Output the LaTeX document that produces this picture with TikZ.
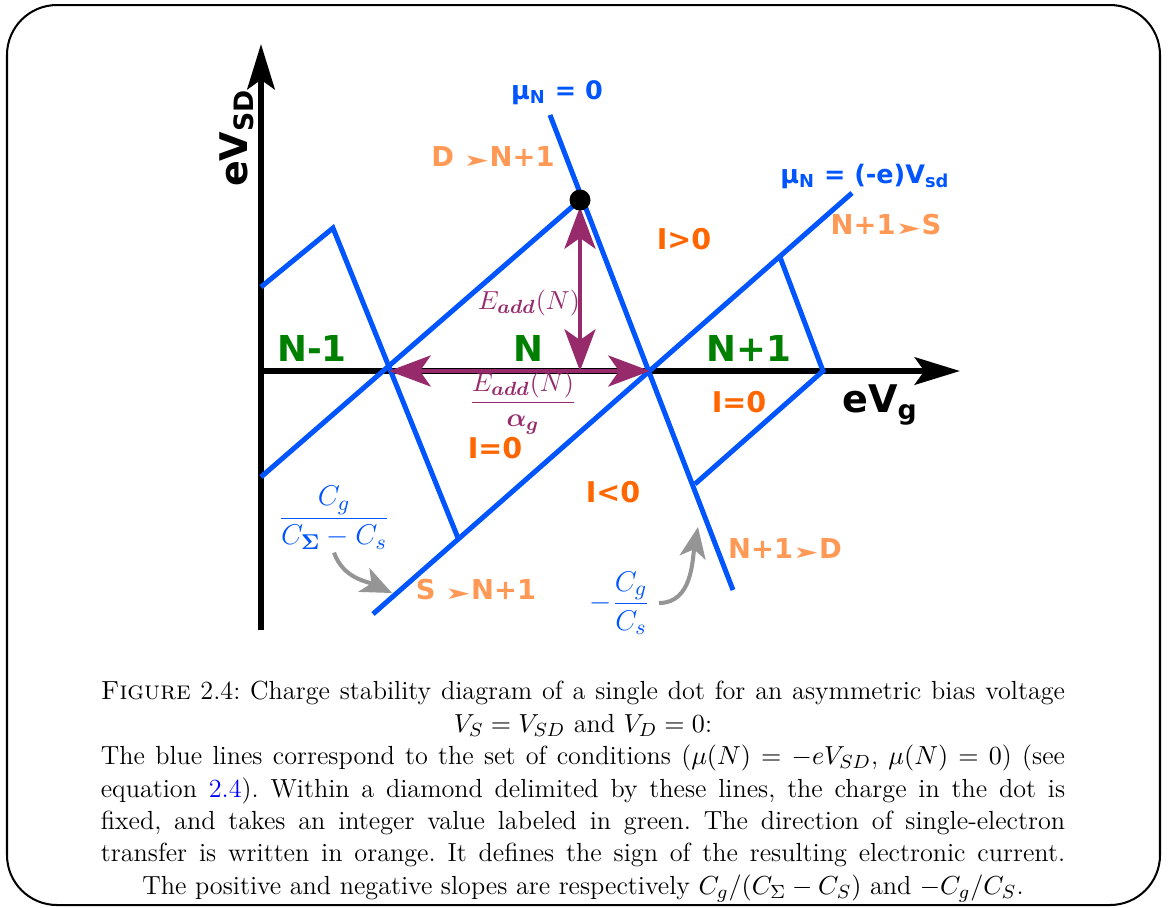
\documentclass[tikz,border=0pt]{standalone}
\usepackage{amsmath}
\usepackage{fontspec}
\usepackage{xcolor}
\usepackage{tikz}
\usetikzlibrary{arrows.meta,calc}
\newfontfamily\dvs{DejaVu Sans}
\definecolor{ink}{HTML}{000000}
\definecolor{cLine}{HTML}{0055FF}
\definecolor{cCharge}{HTML}{008000}
\definecolor{cCurr}{HTML}{FF6600}
\definecolor{cHop}{HTML}{FF9955}
\definecolor{cEadd}{HTML}{962A6B}
\definecolor{cHint}{HTML}{959595}
\definecolor{cRef}{HTML}{0000FF}
\newcommand{\hop}{{\mdseries\fontsize{13}{13}\selectfont\scalebox{1}[0.55]{➤}}}
\newcommand{\fullline}[1]{\makebox[405pt][s]{#1}}
\tikzset{
  outline/.style = {rounded corners=21pt, line width=0.85pt},
  ax/.style      = {line width=2.5pt, -{Stealth[length=19pt,width=11.5pt,inset=4pt]}},
  bl/.style      = {draw=cLine, line width=2.1pt},
  ea/.style      = {draw=cEadd, line width=1.9pt,
                    {Stealth[length=17.5pt,width=13pt,inset=4.5pt]}-{Stealth[length=17.5pt,width=13pt,inset=4.5pt]}},
  hint/.style    = {draw=cHint, line width=1.7pt, -{Stealth[length=13pt,width=11pt,inset=3.5pt]}},
  sans/.style    = {font=\dvs\bfseries\fontsize{#1}{#1}\selectfont, inner sep=1pt},
  chg/.style     = {sans=15, text=cCharge},
  cur/.style     = {sans=12, text=cCurr},
  hopl/.style    = {sans=11.5, text=cHop},
  lvl/.style     = {sans=10.7, text=cLine},
  axl/.style     = {sans=16, text=ink},
  eal/.style     = {text=cEadd, inner sep=1pt, font=\fontsize{10.95}{13}\selectfont},
  slope/.style   = {text=cLine, inner sep=1pt, font=\fontsize{13}{15}\selectfont},
  capt/.style    = {align=center, inner sep=0pt, font=\fontsize{11}{13.6}\selectfont\frenchspacing},
}

\begin{document}
\begin{tikzpicture}[x=0.42pt,y=0.42pt]
  \useasboundingbox (0,0) rectangle (1168,-907);
  \draw[outline] (7,-5) rectangle (1160,-905);

  \coordinate (O) at (261,-371);
  \coordinate (degL) at (389,-371);
  \coordinate (degR) at (650,-371);
  \coordinate (apex) at (580,-200);

  \draw[ax] (261,-630) -- (261,-44);
  \draw[ax] (258,-371) -- (960,-371);
  \node[axl, rotate=90] (vsd) at (237,-138) {eV\textsubscript{SD}};
  \node[axl] (vg) at (880,-405) {eV\textsubscript{g}};

  % degeneracy lines
  \draw[bl] (261,-477) -- (apex);
  \draw[bl] (550,-115) -- (733,-590);
  \draw[bl] (373,-614) -- (852,-193);
  \draw[bl] (261,-287) -- (333,-228) -- (458,-538);
  \draw[bl] (780,-257) -- (823,-371) -- (695,-484);
  \node[lvl] (mu0) at (557,-93) {μ\textsubscript{N} = 0};
  \node[lvl] (musd) at (865,-176) {μ\textsubscript{N} = (-e)V\textsubscript{sd}};

  % addition energy
  \draw[ea] (degL) -- (degR);
  \draw[ea] ($(apex)+(0,-7)$) -- (apex |- O);
  \fill (apex) circle[radius=10.5];
  \node[eal] (ev) at (529,-303) {$E_{\boldsymbol{add}}(N)$};
  \node[eal] (eh) at (523,-403) {$\dfrac{E_{\boldsymbol{add}}(N)}{\boldsymbol{\alpha_g}}$};

  \node[chg] (nm) at (312,-348) {N-1};
  \node[chg] (n0) at (528,-348) {N};
  \node[chg] (np) at (749,-348) {N+1};

  \node[cur] (ipos) at (684,-239) {I>0};
  \node[cur] (izr) at (739,-402) {I=0};
  \node[cur] (izl) at (495,-448) {I=0};
  \node[cur] (ineg) at (613,-492) {I<0};

  \node[hopl] (dn) at (493,-157) {D \hop{}N+1};
  \node[hopl] (ns) at (886,-225) {N+1\hop{}S};
  \node[hopl] (sn) at (476,-590) {S \hop{}N+1};
  \node[hopl] (nd) at (785,-549) {N+1\hop{}D};

  % slopes
  \coordinate (tipL) at (392,-593);
  \coordinate (tipR) at (698,-527);
  \node[slope] (slL) at (334,-518) {$\dfrac{C_g}{C_{\boldsymbol{\Sigma}}-C_s}$};
  \node[slope] (slR) at (620,-603) {$-\dfrac{C_g}{C_s}$};
  \draw[hint] (slL.south) to[out=-70,in=155] (tipL);
  \draw[hint] ([xshift=2.5pt]slR.east) to[out=0,in=-100] (tipR);

  \node[capt, anchor=north] (cap) at (583,-681) {%
    \fullline{\textsc{Figure} 2.4: Charge stability diagram of a single dot for an asymmetric bias voltage}\\
    $V_S=V_{SD}$ and $V_D=0$:\\
    \fullline{The blue lines correspond to the set of conditions ($\mu(N)=-eV_{SD}$, $\mu(N)=0$) (see}\\
    \fullline{equation \textcolor{cRef}{2.4}). Within a diamond delimited by these lines, the charge in the dot is}\\
    \fullline{fixed, and takes an integer value labeled in green. The direction of single-electron}\\
    \fullline{transfer is written in orange. It defines the sign of the resulting electronic current.}\\
    The positive and negative slopes are respectively $C_g/(C_\Sigma-C_S)$ and $-C_g/C_S$.};
\end{tikzpicture}
\end{document}
